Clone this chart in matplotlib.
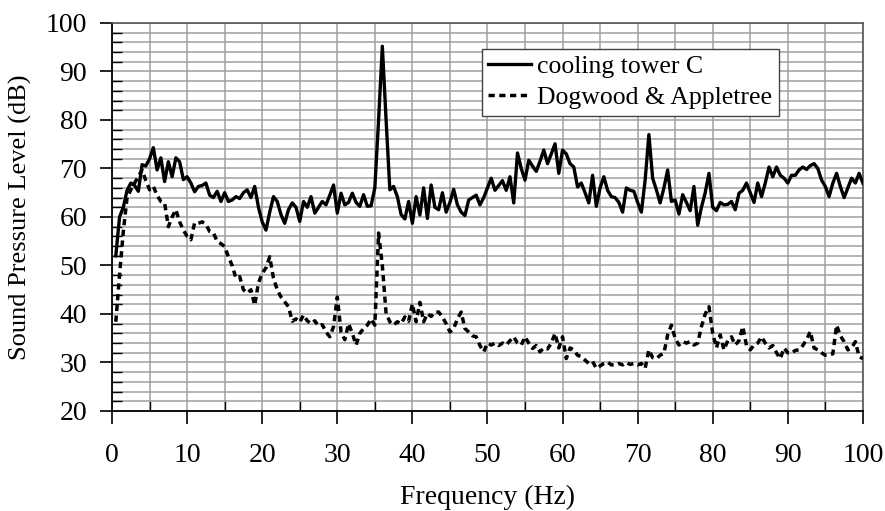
import numpy as np
import matplotlib.pyplot as plt
from matplotlib.ticker import MultipleLocator

# frequency axis, 0.5 Hz steps
freq = np.arange(1, 201) * 0.5

tower_c = [
    52, 60, 62, 65.5, 67, 66.5, 65.3, 70.8, 70.5, 72,
    74.3, 69.7, 72.2, 67.3, 71.4, 68.3, 72.2, 71.4, 67.7, 68.3,
    67, 65.2, 66.3, 66.5, 67, 64.5, 64, 65.3, 63.2, 65,
    63.2, 63.5, 64.2, 63.8, 65, 65.6, 64, 66.3, 62, 59,
    57.3, 61, 64.2, 63.2, 60.5, 58.7, 61.5, 62.9, 62, 59.1,
    63.2, 62, 64.2, 60.8, 62, 63.2, 62.5, 64.5, 66.6, 60.8,
    64.9, 62.5, 63, 64.9, 63, 62.2, 64.6, 62.2, 62.3, 66,
    80, 95.2, 80, 65.6, 66.3, 64.2, 60.5, 59.6, 63.2, 58.7,
    64.2, 60.4, 66, 59.7, 66.6, 62, 61.5, 65, 61, 63,
    65.7, 62.5, 61, 60.3, 63.5, 64, 64.5, 62.5, 64, 66,
    68, 65.5, 66.5, 67.5, 65.5, 68.3, 62.9, 73.2, 70, 67.6,
    71.7, 70.5, 69.4, 71.5, 73.8, 71, 73, 75.1, 69, 73.8,
    73, 71, 70.3, 66.2, 67, 65, 62.9, 68.6, 62.2, 66,
    68.3, 65.5, 64.2, 64, 63, 61, 66, 65.5, 65.3, 63,
    61, 67.6, 77, 68, 65.6, 62.9, 66, 69.7, 63.2, 63.5,
    60.6, 64.6, 63, 61.3, 66.3, 58.3, 62, 65, 69, 62,
    61.3, 63, 62.5, 62.6, 63.2, 61.5, 64.9, 65.5, 67, 65,
    63, 67, 64.2, 67, 70.3, 68.3, 70.3, 68.6, 68, 67,
    68.6, 68.6, 69.7, 70.3, 69.8, 70.6, 71, 70, 67.6, 66.3,
    64.2, 67, 69, 66.3, 64, 66, 68, 67, 69, 67,
]

dogwood = [
    38.4, 48, 57, 64, 65.6, 67, 68.3, 69.7, 67.5, 65.6,
    66.3, 64.5, 63.2, 62.9, 58, 60, 61.5, 59, 57.3, 56,
    55.3, 58.8, 58.7, 59, 58.5, 57, 56.7, 55, 54.5, 53.9,
    51.8, 50, 47.4, 47.7, 45, 44.3, 45, 41.8, 46.4, 48.4,
    49.5, 51.8, 47.4, 45, 43.5, 42.5, 41.5, 38.5, 39, 38.3,
    39.8, 38.6, 38, 38.6, 37.5, 37.8, 36.3, 35.3, 37.4, 43.5,
    36.3, 34.7, 38, 36, 33.6, 36, 37, 37.7, 39, 37.7,
    56.7, 50, 40.1, 38.4, 37.7, 38.4, 38, 39.4, 38.5, 42.1,
    38.4, 42.4, 38.4, 40.1, 39.5, 40.4, 40.4, 39.4, 38, 36.3,
    37, 39, 40.4, 37, 36.3, 35.5, 35.3, 33.5, 32.2, 34,
    33.6, 34, 33.5, 34, 33.6, 34.5, 35.3, 34, 33.6, 35.3,
    34, 32.9, 33.5, 32.2, 33, 32.8, 34, 36, 33, 35.3,
    30.8, 33, 32.6, 31.5, 31.2, 30.5, 29.8, 30.2, 28.8, 29.3,
    29.8, 30.1, 29.5, 29.5, 29.8, 29.5, 30, 29.6, 29.8, 29.5,
    29.8, 28.8, 32.6, 31, 30.8, 31.5, 31.9, 35.7, 37.7, 35,
    33.6, 34.3, 34, 34.3, 33.6, 34, 37.4, 40, 41.5, 36,
    33, 35.7, 32.6, 34.5, 35.3, 33.6, 34.5, 37.4, 33.5, 32.6,
    33.6, 34, 35.3, 34, 33, 33.5, 32, 30.8, 33, 32,
    31.9, 32.5, 32.6, 33.5, 34.7, 36.4, 33, 32.6, 32, 31.5,
    31.5, 31.8, 37.7, 35.5, 34.3, 32.6, 33, 34.3, 31.2, 30.8,
]

plt.rcParams['font.family'] = ['Liberation Serif', 'DejaVu Serif']

fig = plt.figure(figsize=(8.85, 5.11), dpi=100)
ax = fig.add_axes([0.1266, 0.1957, 0.8484, 0.7593])

ax.plot(freq, tower_c, color='black', lw=2.4, label='cooling tower C', zorder=3)
ax.plot(freq, dogwood, color='black', lw=2.5, linestyle=(0, (1.8, 1.3)),
        label='Dogwood & Appletree', zorder=3)

ax.set_xlim(0, 100)
ax.set_ylim(20, 100)
ax.xaxis.set_major_locator(MultipleLocator(10))
ax.xaxis.set_minor_locator(MultipleLocator(5))
ax.yaxis.set_major_locator(MultipleLocator(10))
ax.yaxis.set_minor_locator(MultipleLocator(2))

ax.grid(True, which='both', color='#a0a0a0', lw=1.1, zorder=0)
ax.set_axisbelow(True)

ax.tick_params(which='major', direction='out', length=9, width=1.2,
               labelsize=20, color='black')
ax.tick_params(which='minor', direction='in', length=7, width=1.0, color='black')
ax.tick_params(axis='x', which='major', pad=14)
ax.tick_params(axis='y', which='major', pad=9)

for side in ['left', 'bottom']:
    ax.spines[side].set_color('black')
    ax.spines[side].set_linewidth(1.3)
for side in ['top', 'right']:
    ax.spines[side].set_color('#555555')
    ax.spines[side].set_linewidth(1.2)

ax.set_xlabel('Frequency (Hz)', fontsize=20, labelpad=12)
ax.set_ylabel('Sound Pressure Level (dB)', fontsize=19, labelpad=10)

leg = ax.legend(loc='upper left', bbox_to_anchor=(482 / 885, 1 - 49 / 511),
                bbox_transform=fig.transFigure, fontsize=18.5, fancybox=False,
                framealpha=1, edgecolor='#444444', handlelength=1.65,
                borderpad=0.25, labelspacing=0.3, handletextpad=0.25,
                borderaxespad=0)
leg.get_frame().set_linewidth(1.0)

fig.savefig('out.png', dpi=100)
